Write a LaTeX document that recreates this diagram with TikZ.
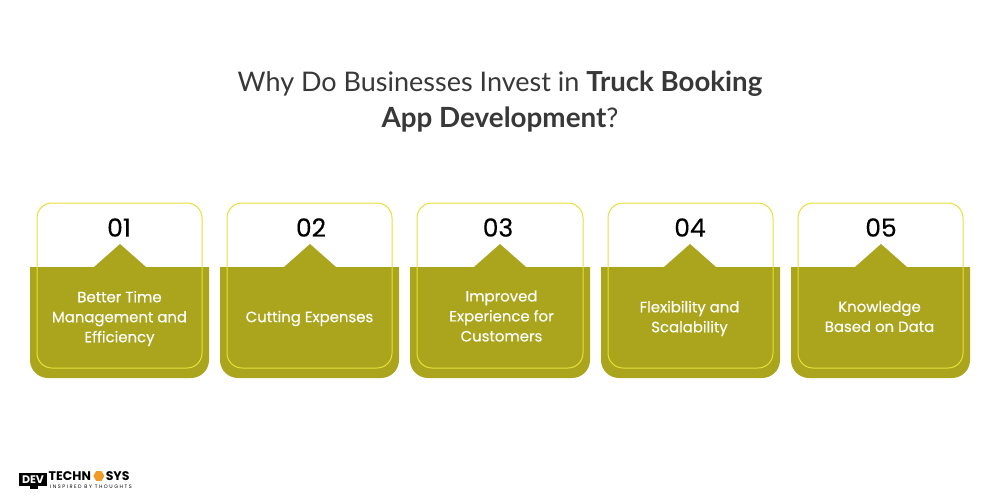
\documentclass[tikz,border=0pt]{standalone}
\usepackage{fontspec}
\usetikzlibrary{positioning, shapes.geometric}
\setmainfont{Poppins}
\newfontfamily\titlefont{Lato}
\newfontfamily\cardfont[FakeBold=0.25]{Poppins}
\newfontfamily\mottofont[LetterSpace=30]{Poppins}
\definecolor{olive}{HTML}{ABA51E}
\definecolor{lemon}{HTML}{E8E03A}
\definecolor{ink}{HTML}{383838}
\definecolor{hexorange}{HTML}{F09A2A}
\begin{document}
\begin{tikzpicture}[x=1pt, y=-1pt]
    \tikzstyle{base}=[fill=olive, draw=none]
    \tikzstyle{frame}=[draw=lemon, line width=1pt, rounded corners=15pt]
    \tikzstyle{number}=[font=\cardfont\fontsize{25}{25}\selectfont, text=black, inner sep=0pt]
    \tikzstyle{label}=[font=\cardfont\fontsize{14.9}{20}\selectfont, text=white, align=center, inner sep=0pt]
    \tikzstyle{headline}=[font=\titlefont\fontsize{27}{36}\selectfont, text=ink, align=center, inner sep=0pt]
    \tikzstyle{logo}=[font=\bfseries\fontsize{12.5}{13}\selectfont, text=black, inner sep=0pt, anchor=west]

    \useasboundingbox (0,0) rectangle (1000,500);
    \fill[white] (0,0) rectangle (1000,500);

    \node[headline] (title) at (500,101.5) {Why Do Businesses Invest in {\fontsize{27.6}{36}\selectfont\textbf{Truck Booking}}\\{\fontsize{27.8}{36}\selectfont\textbf{App Development}}?};

    \foreach \name / \xl / \xr / \tip / \numx / \labx / \laby / \txt in {
        1/30/209/120/119/119.5/318.5/{Better Time\\Management and\\Efficiency},
        2/220/399/310/311/309.5/318.5/{Cutting Expenses},
        3/410/590/500/498/501.5/316/{Improved\\Experience for\\Customers},
        4/601/780/690/690/689.5/318.5/{Flexibility and\\Scalability},
        5/791/970/881/881/879.5/316.5/{Knowledge\\Based on Data}} {
        \fill[base] (\xl,267) -- (\tip-26,267) -- (\tip,244) -- (\tip+26,267) -- (\xr,267)
            [rounded corners=18pt] -- (\xr,378) -- (\xl,378) -- (\xl,267);
        \draw[frame] (\xl+7,203) rectangle (\xr-7,368);
        \node[number] (N-\name) at (\numx,227.5) {0\name};
        \node[label] (L-\name) at (\labx,\laby) {\txt};
    }

    % logo
    \node[fill=black, text=white, font=\bfseries\fontsize{11}{11}\selectfont, inner sep=0pt,
        minimum width=28pt, minimum height=13pt, text height=8pt, text depth=0pt] (dev) at (33,479.5) {DEV};
    \fill[black] (30,486) rectangle (38,489);
    \node[logo, text height=8.5pt, text depth=0pt] (techn) at (48.5,476) {TECHN};
    \node[regular polygon, regular polygon sides=6, fill=hexorange, minimum size=11pt, inner sep=0pt, right=2pt of techn] (hex) {};
    \node[logo, text height=8.5pt, text depth=0pt, right=1pt of hex] (sys) {SYS};
    \node[font=\mottofont\fontsize{5}{5}\selectfont, text=black, inner sep=0pt, text height=3.5pt, text depth=0pt, anchor=west] (motto) at (50,486.5) {INSPIRED BY THOUGHTS};
\end{tikzpicture}
\end{document}
